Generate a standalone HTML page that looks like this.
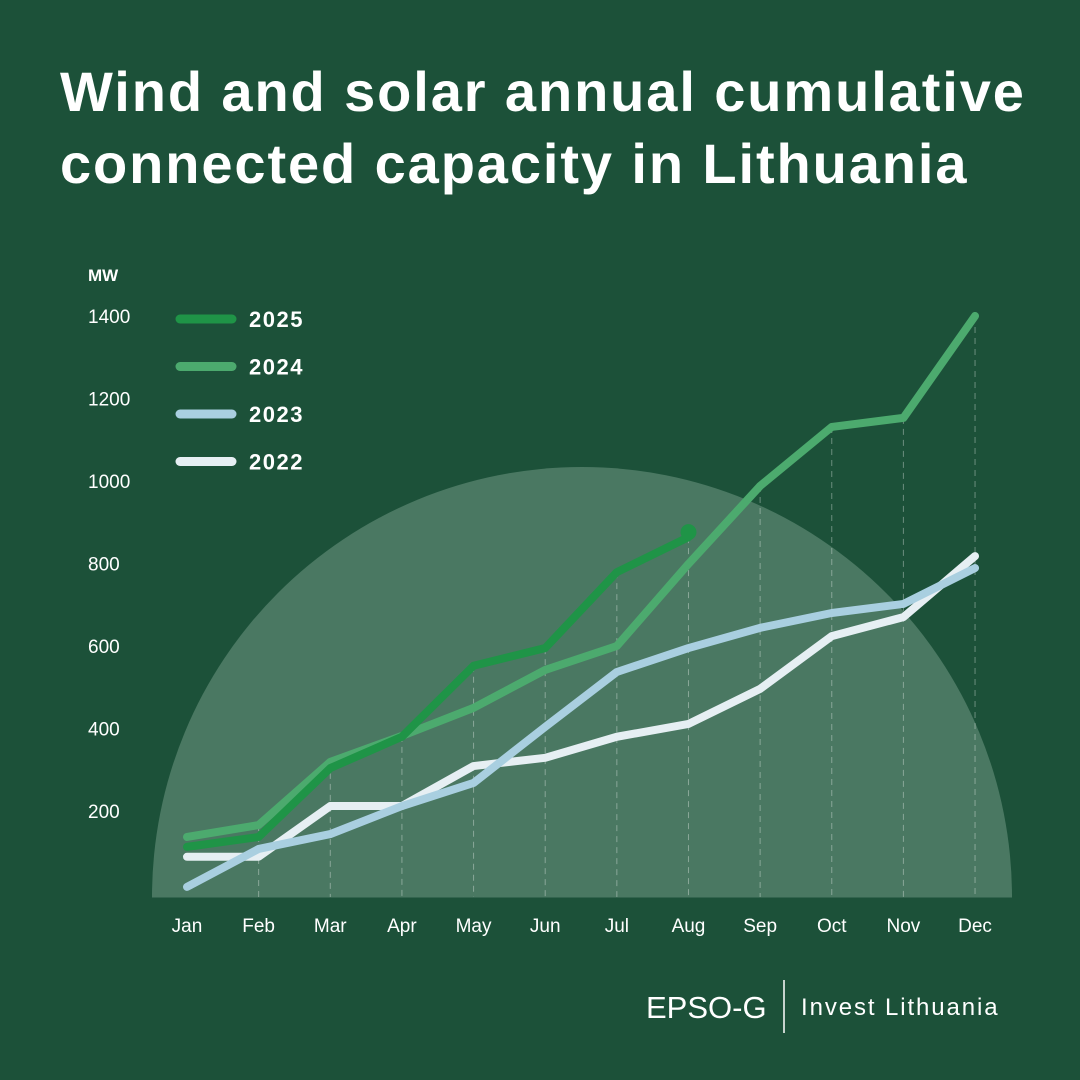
<!DOCTYPE html>
<html><head><meta charset="utf-8">
<style>
html,body{margin:0;padding:0;background:#1c5139;}
#wrap{position:relative;width:1080px;height:1080px;background:#1c5139;font-family:"Liberation Sans",sans-serif;color:#fff;overflow:hidden;}
h1{position:absolute;left:60px;top:56px;margin:0;font-size:56px;line-height:72px;font-weight:bold;letter-spacing:1.9px;white-space:nowrap;}
</style></head>
<body>
<div id="wrap">
<h1>Wind and solar annual cumulative<br>connected capacity in Lithuania</h1>
<svg id="chart" width="1080" height="1080" style="position:absolute;left:0;top:0"></svg>
</div>
<script>
const months=["Jan","Feb","Mar","Apr","May","Jun","Jul","Aug","Sep","Oct","Nov","Dec"];
const yTicks=[200,400,600,800,1000,1200,1400];
const seriesNames=["2025","2024","2023","2022"];
const s2025=[113,137,304,380,552,595,779,864];
const s2024=[137,166,319,382,450,542,600,799,988,1131,1153,1400];
const s2023=[16,108,144,212,268,404,537,595,644,680,702,789];
const s2022=[89,89,212,212,309,329,380,411,496,624,670,818];
const colors=["#1f9447","#4caa6e","#a9cfe0","#e6eff3"];
const NS="http://www.w3.org/2000/svg";
const svg=document.getElementById('chart');
const x=i=>187+i*71.64;
const y=v=>893.5-v*0.4125;
function mk(t,a){const e=document.createElementNS(NS,t);for(const k in a)e.setAttribute(k,a[k]);svg.appendChild(e);return e;}
const arc=mk('path',{d:'M152 897 A430 430 0 0 1 1012 897 Z',fill:'#4a7862'});


const base=mk('line',{x1:152,x2:1012,y1:897,y2:897,stroke:'#4a7862','stroke-width':1});


months.forEach((m,i)=>{
  const vals=[s2025[i],s2024[i],s2023[i],s2022[i]].filter(v=>v!==undefined);
  const mx=Math.max(...vals);
  if(i>0){const g=mk('line',{x1:x(i),x2:x(i),y1:y(mx),y2:897,stroke:'rgba(255,255,255,0.35)','stroke-width':1,'stroke-dasharray':'6 5'});
  
  }
  const t=mk('text',{x:x(i),y:932,'text-anchor':'middle','font-size':19,fill:'#fff'});
  t.textContent=m;
  
  
});
yTicks.forEach(v=>{
  const t=mk('text',{x:88,y:y(v)+7,'font-size':19,fill:'#fff'});
  t.textContent=v;
  
  
});
const u=mk('text',{x:88,y:281,'font-size':17,'font-weight':'bold',fill:'#fff'});u.textContent='MW';


const all=[s2025,s2024,s2023,s2022];
for(let k=3;k>=0;k--){
  const d=all[k].map((v,i)=>(i?'L':'M')+x(i)+' '+y(v)).join(' ');
  const p=mk('path',{d:d,fill:'none',stroke:colors[k],'stroke-width':8,'stroke-linecap':'round','stroke-linejoin':'round'});
  
  
}
const last=s2025.length-1;
const dot=mk('circle',{cx:x(last),cy:y(s2025[last])-5,r:8,fill:colors[0]});


seriesNames.forEach((n,k)=>{
  const yy=319+k*47.5;
  const l=mk('line',{x1:180,x2:232,y1:yy,y2:yy,stroke:colors[k],'stroke-width':9,'stroke-linecap':'round'});
  
  
  const t=mk('text',{x:249,y:yy+8,'font-size':22,'font-weight':'bold',fill:'#fff','letter-spacing':1.5});t.textContent=n;
  
  
});
const l1=mk('text',{x:646,y:1018,'font-size':31,fill:'#fff'});l1.textContent='EPSO-G';


const sep=mk('line',{x1:784,x2:784,y1:980,y2:1033,stroke:'#fff','stroke-width':1.5});


const l2=mk('text',{x:801,y:1015,'font-size':24,fill:'#fff','letter-spacing':1.9});l2.textContent='Invest Lithuania';


</script>
</body></html>
